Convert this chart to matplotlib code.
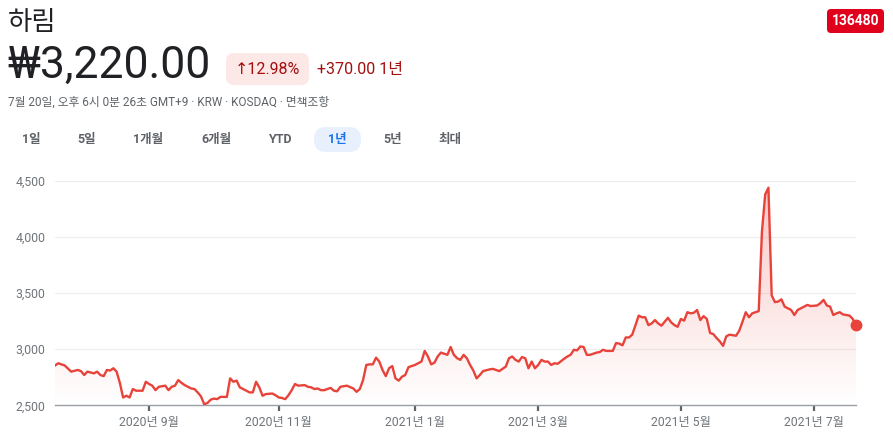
import numpy as np
import matplotlib.pyplot as plt
from matplotlib.patches import FancyBboxPatch
from matplotlib.ticker import FixedLocator, FuncFormatter

plt.rcParams['font.family'] = ['Roboto', 'Noto Sans CJK KR', 'DejaVu Sans']

# trading-day index (0 = 2020-07-20) and closing price
day = [0, 1, 3, 5, 7, 8, 9, 10, 12, 13, 14, 15, 16, 17, 18, 19, 20, 21, 22, 23,
       24, 25, 27, 28, 29, 30, 31, 32, 34, 35, 36, 37, 38, 39, 40, 42, 43, 44, 45, 46,
       47, 48, 49, 50, 51, 53, 54, 55, 56, 57, 59, 60, 61, 62, 63, 64, 65, 67, 68, 69,
       70, 71, 72, 73, 74, 75, 77, 78, 79, 80, 81, 82, 83, 85, 86, 87, 88, 90, 92, 93,
       94, 95, 96, 97, 98, 99, 100, 101, 102, 103, 104, 105, 106, 107, 108, 109, 110, 111, 113, 114,
       115, 116, 117, 118, 119, 121, 122, 123, 124, 125, 126, 127, 128, 129, 130, 131, 132, 134, 135, 137,
       138, 139, 140, 141, 142, 143, 144, 145, 146, 147, 148, 149, 150, 151, 152, 153, 154, 155, 157, 158,
       159, 160, 161, 162, 163, 164, 165, 167, 168, 169, 170, 172, 173, 174, 175, 176, 177, 178, 180, 181,
       182, 183, 184, 185, 186, 187, 188, 189, 190, 191, 192, 193, 194, 195, 196, 197, 198, 199, 200, 201,
       202, 203, 204, 205, 206, 207, 208, 210, 211, 212, 213, 214, 215, 216, 217, 218, 219, 220, 221, 222,
       223, 224, 225, 226, 227, 228, 229, 230, 232, 233, 235, 236, 237, 238, 239, 240, 241, 242, 243, 245,
       246, 247]
price = [2855, 2875, 2855, 2800, 2815, 2805, 2770, 2800, 2785, 2800, 2770, 2760, 2815, 2810, 2830, 2800, 2700, 2570, 2585, 2570,
         2645, 2630, 2630, 2710, 2690, 2675, 2635, 2665, 2675, 2635, 2665, 2675, 2725, 2700, 2680, 2650, 2645, 2615, 2580, 2510,
         2520, 2550, 2560, 2555, 2575, 2575, 2740, 2710, 2720, 2660, 2630, 2615, 2615, 2710, 2660, 2585, 2600, 2605, 2590, 2570,
         2565, 2555, 2590, 2635, 2690, 2675, 2680, 2665, 2660, 2645, 2650, 2635, 2635, 2655, 2630, 2625, 2665, 2675, 2650, 2620,
         2645, 2725, 2860, 2865, 2865, 2925, 2890, 2815, 2760, 2830, 2850, 2740, 2720, 2755, 2770, 2840, 2850, 2860, 2890, 2985,
         2935, 2865, 2880, 2935, 2970, 2950, 3020, 2950, 2920, 2905, 2950, 2920, 2860, 2810, 2740, 2770, 2805, 2820, 2825, 2805,
         2825, 2845, 2920, 2935, 2905, 2890, 2930, 2920, 2830, 2890, 2830, 2860, 2905, 2890, 2890, 2860, 2875, 2870, 2915, 2935,
         2950, 2995, 2990, 3025, 3020, 2950, 2950, 2970, 2975, 2995, 2985, 2985, 3055, 3050, 3035, 3105, 3105, 3130, 3300, 3285,
         3285, 3215, 3230, 3260, 3230, 3210, 3245, 3280, 3240, 3215, 3200, 3270, 3255, 3330, 3320, 3325, 3350, 3260, 3295, 3270,
         3145, 3135, 3100, 3070, 3030, 3115, 3130, 3120, 3165, 3245, 3330, 3285, 3320, 3330, 3340, 4050, 4380, 4440, 3480, 3420,
         3425, 3445, 3380, 3365, 3350, 3305, 3350, 3365, 3395, 3385, 3390, 3410, 3440, 3390, 3380, 3305, 3320, 3330, 3310, 3300,
         3270, 3220]

tick_days = [29, 69, 111, 149, 193, 234]
tick_labels = ['2020년 9월', '2020년 11월', '2021년 1월', '2021년 3월', '2021년 5월', '2021년 7월']
y_ticks = [2500, 3000, 3500, 4000, 4500]

tabs = ['1일', '5일', '1개월', '6개월', 'YTD', '1년', '5년', '최대']
tab_x = [31, 87, 148, 216, 280, 337, 393, 450]

RED = '#e8433a'
GRAY = '#70757a'

W, H = 893, 444
fig = plt.figure(figsize=(W / 100, H / 100), dpi=100)
pix = fig.dpi_scale_trans


def ptext(x, y, s, **kw):
    # x, y in pixels from top-left
    fig.text(x / 100, (H - y) / 100, s, transform=pix, **kw)


def pbox(x0, y0, x1, y1, color, r):
    box = FancyBboxPatch((x0 / 100, (H - y1) / 100), (x1 - x0) / 100, (y1 - y0) / 100,
                         boxstyle='round,pad=0,rounding_size=%f' % r,
                         transform=pix, fc=color, ec='none')
    fig.add_artist(box)


# header
ptext(8, 22, '하림', fontsize=19, color='#202124', va='center', family=['Noto Sans CJK KR'])
ptext(7, 66, '₩3,220.00', fontsize=32, color='#202124', va='center',
      family=['Roboto', 'Noto Sans CJK KR'])
pbox(226, 53, 309, 85, '#fce8e6', 0.08)
ptext(267, 69, '↑12.98%', fontsize=11.5, color='#a50e0e', va='center', ha='center',
      family=['Roboto', 'DejaVu Sans'])
ptext(317, 69, '+370.00 1년', fontsize=11.5, color='#a50e0e', va='center')
ptext(8, 102, '7월 20일, 오후 6시 0분 26초 GMT+9 · KRW · KOSDAQ · 면책조항',
      fontsize=8.5, color='#5f6368', va='center')

pbox(314, 127, 361, 152, '#e8f0fe', 0.12)
for t, x in zip(tabs, tab_x):
    c = '#1a73e8' if t == '1년' else '#5f6368'
    ptext(x, 139, t, fontsize=9, color=c, va='center', ha='center', fontweight='bold')

pbox(827, 9, 884, 33, '#e0001b', 0.04)
ptext(855.5, 21, '136480', fontsize=10, color='white', va='center', ha='center',
      fontweight='bold')

# chart
ax = fig.add_axes([55 / W, (H - 405.3) / H, 801 / W, 224.3 / H])
ax.set_xlim(0, 247)
ax.set_ylim(2500, 4500)

ax.plot(day, price, color=RED, lw=1.7, solid_joinstyle='round', zorder=3)
ax.plot(day[-1], price[-1], 'o', color=RED, ms=7.5, clip_on=False, zorder=4)

# vertical gradient under the line
grad = np.zeros((256, 2, 4))
grad[..., 0] = 0.91
grad[..., 1] = 0.26
grad[..., 2] = 0.23
grad[..., 3] = np.linspace(0.3, 0.0, 256)[:, None]
poly = ax.fill_between(day, price, 2500, color='none')
img = ax.imshow(grad, extent=[0, 247, 2500, 4500], aspect='auto', origin='upper', zorder=1)
img.set_clip_path(poly.get_paths()[0], transform=ax.transData)

for s in ['top', 'right', 'left']:
    ax.spines[s].set_visible(False)
ax.spines['bottom'].set_color('#9aa0a6')
ax.spines['bottom'].set_linewidth(1.0)

ax.yaxis.set_major_locator(FixedLocator(y_ticks))
ax.yaxis.set_major_formatter(FuncFormatter(lambda v, p: '{:,.0f}'.format(v)))
ax.grid(axis='y', color='#eeeeee', lw=0.9)
ax.set_axisbelow(True)
ax.tick_params(axis='y', length=0, pad=7, labelsize=8.8, labelcolor=GRAY)

ax.set_xticks(tick_days)
ax.set_xticklabels(tick_labels)
ax.tick_params(axis='x', length=4.5, width=1.6, color='#5f6368', pad=3,
               labelsize=8.8, labelcolor=GRAY)

fig.savefig('out.png', dpi=100)
